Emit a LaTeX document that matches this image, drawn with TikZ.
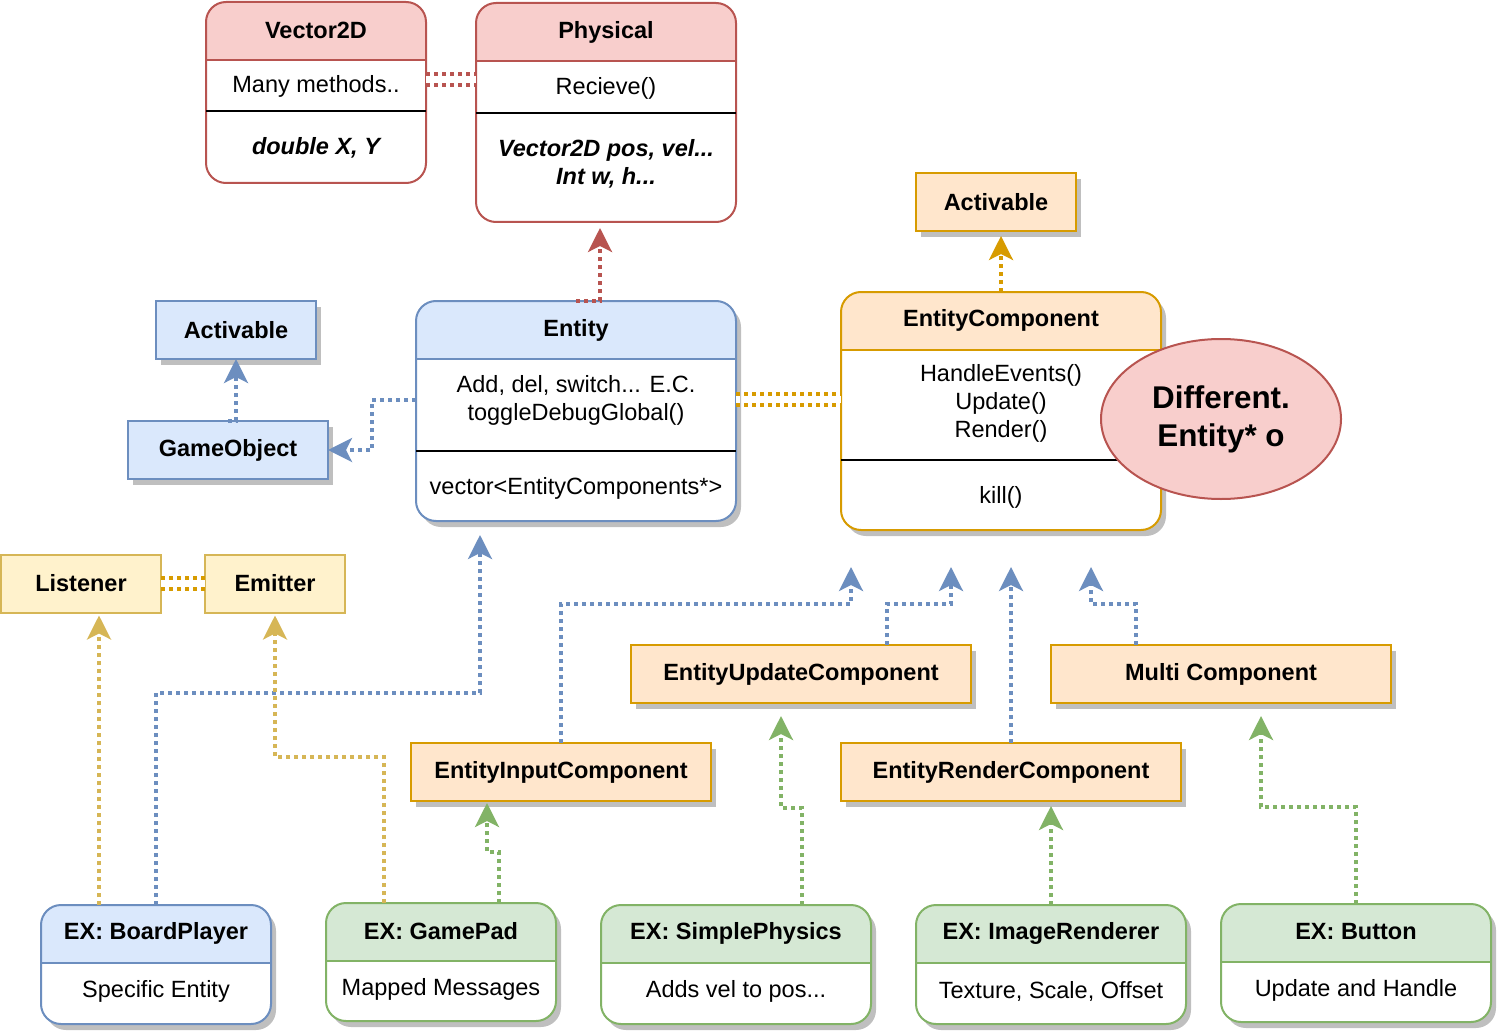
\documentclass[tikz,border=0pt]{standalone}
\usepackage{fontspec}
\setmainfont{Liberation Sans}
\usetikzlibrary{arrows.meta,shapes.geometric,shadows}

\definecolor{bluefill}{HTML}{DAE8FC}
\definecolor{blueline}{HTML}{6C8EBF}
\definecolor{redfill}{HTML}{F8CECC}
\definecolor{redline}{HTML}{B85450}
\definecolor{orangefill}{HTML}{FFE6CC}
\definecolor{orangeline}{HTML}{D79B00}
\definecolor{yellowfill}{HTML}{FFF2CC}
\definecolor{yellowline}{HTML}{D6B656}
\definecolor{greenfill}{HTML}{D5E8D4}
\definecolor{greenline}{HTML}{82B366}
\definecolor{shadowgray}{HTML}{BFBFBF}

\tikzset{
  base/.style={font=\fontsize{11.75pt}{14pt}\selectfont, line width=1pt, outer sep=0pt, inner sep=0pt},
  shadowed/.style={drop shadow={shadow xshift=2.5pt, shadow yshift=-3pt, fill=shadowgray, opacity=1}},
  plainbox/.style 2 args={base, rectangle, draw=#2, fill=#1, font=\fontsize{11.75pt}{14pt}\selectfont\bfseries, minimum height=29pt},
  classbox/.style 2 args={base, rectangle, draw=#2, fill=white, rounded corners=10pt,
    path picture={
      \fill[#1, sharp corners] (path picture bounding box.north west) rectangle ([yshift=-29pt]path picture bounding box.north east);
      \draw[#2, line width=1pt, sharp corners] ([yshift=-29pt]path picture bounding box.north west) -- ([yshift=-29pt]path picture bounding box.north east);
    }},
  titletext/.style={font=\fontsize{11.75pt}{14pt}\selectfont\bfseries, inner sep=0pt},
  bodytext/.style={font=\fontsize{11.75pt}{14pt}\selectfont, inner sep=0pt, align=center},
  attrtext/.style={bodytext, font=\fontsize{11.75pt}{14pt}\selectfont\bfseries\itshape},
  sepline/.style={line width=1pt, black},
  conn/.style={line width=1.75pt, dash pattern=on 2pt off 2pt, -{Stealth[length=12pt, width=12pt, inset=3pt]}},
  link/.style={line width=1.75pt, double=white, double distance=3.75pt, dash pattern=on 2pt off 2pt},
}

\begin{document}
\begin{tikzpicture}[x=0.5pt, y=-0.5pt]
\useasboundingbox (0,0) rectangle (1498,1032);

% top classes
\node[classbox={redfill}{redline}, minimum width=110pt, minimum height=90.5pt] (vec) at (316,92.5) {};
\node[titletext] (vec-title) at ([yshift=-14pt]vec.north) {Vector2D};
\node[bodytext] (vec-meth) at ([yshift=-42pt]vec.north) {Many methods..};
\draw[sepline] ([yshift=-54.5pt]vec.north west) -- ([yshift=-54.5pt]vec.north east);
\node[attrtext] (vec-attr) at ([yshift=-73pt]vec.north) {double X, Y};

\node[classbox={redfill}{redline}, minimum width=130pt, minimum height=109.5pt] (phys) at (606,112.5) {};
\node[titletext] (phys-title) at ([yshift=-14.5pt]phys.north) {Physical};
\node[bodytext] (phys-meth) at ([yshift=-42.5pt]phys.north) {Recieve()};
\draw[sepline] ([yshift=-55pt]phys.north west) -- ([yshift=-55pt]phys.north east);
\node[attrtext] (phys-attr) at ([yshift=-80.5pt]phys.north) {Vector2D pos, vel...\\Int w, h...};

\node[classbox={bluefill}{blueline}, shadowed, minimum width=160pt, minimum height=110pt] (ent) at (576,411) {};
\node[titletext] (ent-title) at ([yshift=-14.5pt]ent.north) {Entity};
\node[bodytext] (ent-meth) at ([yshift=-49.5pt]ent.north) {Add, del, switch... E.C.\\toggleDebugGlobal()};
\draw[sepline] ([yshift=-75pt]ent.north west) -- ([yshift=-75pt]ent.north east);
\node[bodytext] (ent-attr) at ([yshift=-93.5pt]ent.north) {vector<EntityComponents*>};

\node[classbox={orangefill}{orangeline}, shadowed, minimum width=160pt, minimum height=119pt] (ec) at (1001,411) {};
\node[titletext] (ec-title) at ([yshift=-14pt]ec.north) {EntityComponent};
\node[bodytext] (ec-meth) at ([yshift=-55.5pt]ec.north) {HandleEvents()\\Update()\\Render()};
\draw[sepline] ([yshift=-84pt]ec.north west) -- ([yshift=-84pt]ec.north east);
\node[bodytext] (ec-kill) at ([yshift=-102.5pt]ec.north) {kill()};

\node[ellipse, draw=redline, fill=redfill, line width=1pt, minimum width=120pt, minimum height=80pt, inner sep=0pt, align=center, font=\fontsize{15.7pt}{19pt}\selectfont\bfseries] (note) at (1221,419) {Different.\\Entity* o};

% plain boxes
\node[plainbox={bluefill}{blueline}, shadowed, minimum width=80pt] (act1) at (236,330) {Activable};
\node[plainbox={bluefill}{blueline}, shadowed, minimum width=100pt] (go) at (228,450) {GameObject};
\node[plainbox={orangefill}{orangeline}, shadowed, minimum width=80pt] (act2) at (996,202) {Activable};
\node[plainbox={yellowfill}{yellowline}, minimum width=80pt] (lis) at (81,583.5) {Listener};
\node[plainbox={yellowfill}{yellowline}, minimum width=70pt] (emi) at (275,583.5) {Emitter};
\node[plainbox={orangefill}{orangeline}, shadowed, minimum width=170pt] (euc) at (801,674) {EntityUpdateComponent};
\node[plainbox={orangefill}{orangeline}, shadowed, minimum width=170pt] (mc) at (1221,674) {Multi Component};
\node[plainbox={orangefill}{orangeline}, shadowed, minimum width=150pt] (eic) at (561,772) {EntityInputComponent};
\node[plainbox={orangefill}{orangeline}, shadowed, minimum width=170pt] (erc) at (1011,772) {EntityRenderComponent};

% examples
\node[classbox={bluefill}{blueline}, shadowed, minimum width=115pt, minimum height=59.5pt] (bp) at (156,964.5) {};
\node[titletext] (bp-title) at ([yshift=-14pt]bp.north) {EX: BoardPlayer};
\node[bodytext] (bp-desc) at ([yshift=-43pt]bp.north) {Specific Entity};

\node[classbox={greenfill}{greenline}, shadowed, minimum width=115pt, minimum height=59pt] (gp) at (441,962) {};
\node[titletext] (gp-title) at ([yshift=-14pt]gp.north) {EX: GamePad};
\node[bodytext] (gp-desc) at ([yshift=-43pt]gp.north) {Mapped Messages};

\node[classbox={greenfill}{greenline}, shadowed, minimum width=135pt, minimum height=59.5pt] (sp) at (736,964.5) {};
\node[titletext] (sp-title) at ([yshift=-14pt]sp.north) {EX: SimplePhysics};
\node[bodytext] (sp-desc) at ([yshift=-43pt]sp.north) {Adds vel to pos...};

\node[classbox={greenfill}{greenline}, shadowed, minimum width=135pt, minimum height=59.5pt] (ir) at (1051,964.5) {};
\node[titletext] (ir-title) at ([yshift=-14pt]ir.north) {EX: ImageRenderer};
\node[bodytext] (ir-desc) at ([yshift=-43pt]ir.north) {Texture, Scale, Offset};

\node[classbox={greenfill}{greenline}, shadowed, minimum width=135pt, minimum height=59pt] (btn) at (1356,963) {};
\node[titletext] (btn-title) at ([yshift=-14pt]btn.north) {EX: Button};
\node[bodytext] (btn-desc) at ([yshift=-43pt]btn.north) {Update and Handle};

% links
\draw[link, redline] ([yshift=6.5pt]vec.east) coordinate (vec-link) -- (vec-link -| phys.west);
\draw[link, orangeline] ([yshift=5.75pt]ent.east) coordinate (ent-link) -- (ent-link -| ec.west);
\draw[link, orangeline] (lis.east) -- (emi.west);

% arrows
\draw[conn, redline] (ent.north) -| ([xshift=-3pt, yshift=-3pt]phys.south);
\draw[conn, blueline] (go.north) -| (act1.south);
\draw[conn, blueline] ([yshift=5.5pt]ent.west) -- ++(-22pt,0) |- (go.east);
\draw[conn, orangeline, shorten >=2.5pt] (ec.north) -- (ec.north |- act2.south);

\draw[conn, yellowline, shorten >=1.5pt] ([xshift=-28.5pt]bp.north) coordinate (bp-lis) -- (bp-lis |- lis.south);
\draw[conn, blueline] (bp.north) -- ++(0,106pt) -| ([xshift=-48pt, yshift=-7pt]ent.south);
\draw[conn, yellowline] ([xshift=-28.5pt]gp.north) -- ++(0,73pt) -| ([yshift=-1.5pt]emi.south);
\draw[conn, greenline] ([xshift=29pt]gp.north) -- ++(0,25.5pt) -| ([xshift=-37pt, yshift=-1pt]eic.south);

\draw[conn, blueline] (eic.north) -- ++(0,69.5pt) -| ([xshift=-75pt, yshift=-18.5pt]ec.south);
\draw[conn, blueline] ([xshift=43pt]euc.north) -- ++(0,20.5pt) -| ([xshift=-25pt, yshift=-18.5pt]ec.south);
\draw[conn, blueline, shorten >=18.5pt] (erc.north) -- (erc.north |- ec.south);
\draw[conn, blueline] ([xshift=-42.5pt]mc.north) -- ++(0,20.5pt) -| ([xshift=45pt, yshift=-18.5pt]ec.south);

\draw[conn, greenline] ([xshift=33pt]sp.north) -- ++(0,48.5pt) -| ([xshift=-10pt, yshift=-6.5pt]euc.south);
\draw[conn, greenline, shorten >=2.5pt] (ir.north) -- (ir.north |- erc.south);
\draw[conn, greenline] (btn.north) -- ++(0,48.5pt) -| ([xshift=20pt, yshift=-6.5pt]mc.south);

\end{tikzpicture}
\end{document}
